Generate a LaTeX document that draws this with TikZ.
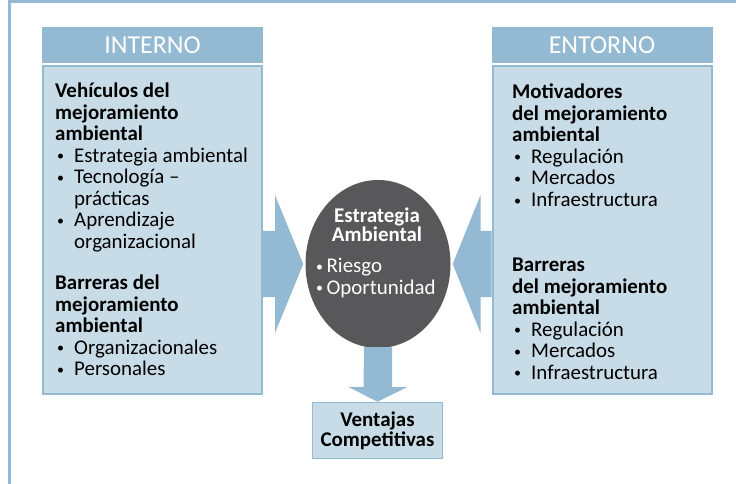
\documentclass[tikz,border=0pt]{standalone}
\usepackage{fontspec}
\setmainfont{Carlito}
\usepackage{tikz}
\usetikzlibrary{calc,shapes.geometric}

\definecolor{azulosc}{HTML}{93BAD2}
\definecolor{azulcla}{HTML}{C8DCE7}
\definecolor{gris}{HTML}{58585A}
\newcommand{\bul}{\makebox[19bp][l]{\hspace*{2bp}\raisebox{1.5bp}{\fontsize{14}{14}\selectfont\textbullet}}}
\newcommand{\sig}{\hspace*{19bp}}

\tikzset{
  hdr/.style={fill=azulosc,text=white,minimum width=221bp,minimum height=36bp,inner sep=0,
    font=\fontsize{26}{28}\selectfont},
  cuerpo/.style={fill=azulcla,draw=azulosc,line width=2bp,minimum width=219bp,
    minimum height=328bp,inner sep=0},
  txt/.style={anchor=north west,align=left,inner sep=0,font=\fontsize{21}{21.6}\selectfont},
  flecha/.style={fill=azulosc}
}

\begin{document}
\begin{tikzpicture}[x=1bp,y=-1bp]
        \useasboundingbox (0,0) rectangle (736,484);
        \draw[azulosc,line width=3bp] (9.5,490) -- (9.5,1.5) -- (740,1.5);
        % cajas
        \node[hdr] (int) at (152.5,45) {INTERNO};
        \node[hdr] (ent) at (602,45) {ENTORNO};
        \node[cuerpo] (izq) at (152.5,230) {};
        \node[cuerpo] (der) at (602,230) {};
        \node[ellipse,fill=gris,minimum width=145bp,minimum height=168bp,inner sep=0] (estr) at (378,264) {};
        \node[fill=azulcla,draw=azulosc,line width=1.5bp,minimum width=130bp,minimum height=56bp,
          align=center,inner sep=0,font=\bfseries\fontsize{21}{20}\selectfont] (vent) at (377.5,430.5)
          {Ventajas\\Competitivas};
        % textos
        \node[txt] (veh) at (55,83) {\textbf{Vehículos del}\\ \textbf{mejoramiento}\\ \textbf{ambiental}\\
          \bul Estrategia ambiental\\ \bul Tecnología --\\ \sig prácticas\\
          \bul Aprendizaje\\ \sig organizacional};
        \node[txt] (barri) at (55,275) {\textbf{Barreras del}\\ \textbf{mejoramiento}\\ \textbf{ambiental}\\
          \bul Organizacionales\\ \bul Personales};
        \node[txt] (mot) at (512,84) {\textbf{Motivadores}\\ \textbf{del mejoramiento}\\ \textbf{ambiental}\\
          \bul Regulación\\ \bul Mercados\\ \bul Infraestructura};
        \node[txt] (barrd) at (512,258) {\textbf{Barreras}\\ \textbf{del mejoramiento}\\ \textbf{ambiental}\\
          \bul Regulación\\ \bul Mercados\\ \bul Infraestructura};
        \node[anchor=north,align=center,inner sep=0,text=white,
          font=\bfseries\fontsize{21}{19}\selectfont] (tit) at (377,208) {Estrategia\\Ambiental};
        \node[txt,text=white] (ries) at (316,258) {\raisebox{1.5bp}{\fontsize{14}{14}\selectfont\textbullet}\,Riesgo\\
          \raisebox{1.5bp}{\fontsize{14}{14}\selectfont\textbullet}\,Oportunidad};
        % flechas
        \coordinate (pi) at (izq.east |- estr.west);
        \coordinate (pd) at (der.west |- estr.east);
        \fill[flecha] ($(pi)+(0,-33)$) -- ++(12,0) -- ++(0,-36) -- ($(estr.west)+(-2,0)$)
          -- ($(pi)+(12,69)$) -- ++(0,-36) -- ($(pi)+(0,33)$) -- cycle;
        \fill[flecha] ($(pd)+(0,-33)$) -- ++(-11,0) -- ++(0,-36) -- ($(estr.east)+(2,0)$)
          -- ($(pd)+(-11,69)$) -- ++(0,-36) -- ($(pd)+(0,33)$) -- cycle;
        \fill[flecha] ($(estr.south)+(-14,-1)$) -- ++(28,0) -- ++(0,40) -- ++(15,0)
          -- (vent.north) -- ++(-29.5,-15) -- ++(15.5,0) -- cycle;
      \end{tikzpicture}
\end{document}
